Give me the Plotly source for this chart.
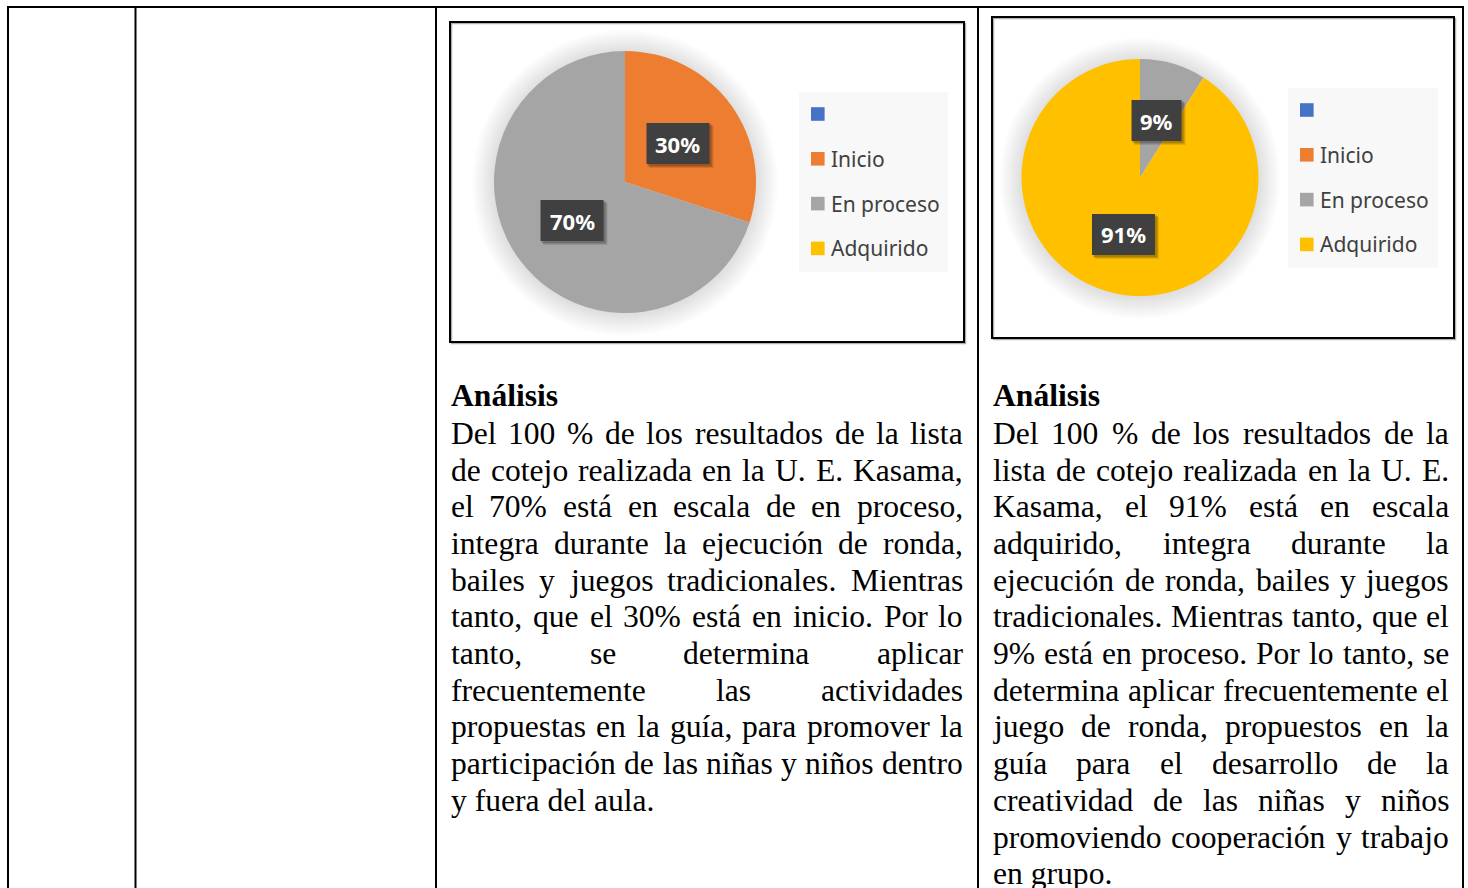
import math
import plotly.graph_objects as go

# ---------------------------------------------------------------- data
categorias = ["", "Inicio", "En proceso", "Adquirido"]
colores = ["#4472C4", "#ED7D31", "#A5A5A5", "#FFC000"]
valores_1 = [0, 30, 70, 0]
valores_2 = [0, 0, 9, 91]

titulo = "Análisis"
parrafo_1 = [
    "Del 100 % de los resultados de la lista",
    "de cotejo realizada en la U. E. Kasama,",
    "el 70% está en escala de en proceso,",
    "integra durante la ejecución de ronda,",
    "bailes y juegos tradicionales. Mientras",
    "tanto, que el 30% está en inicio. Por lo",
    "tanto, se determina aplicar",
    "frecuentemente las actividades",
    "propuestas en la guía, para promover la",
    "participación de las niñas y niños dentro",
    "y fuera del aula.",
]
parrafo_2 = [
    "Del 100 % de los resultados de la",
    "lista de cotejo realizada en la U. E.",
    "Kasama, el 91% está en escala",
    "adquirido, integra durante la",
    "ejecución de ronda, bailes y juegos",
    "tradicionales. Mientras tanto, que el",
    "9% está en proceso. Por lo tanto, se",
    "determina aplicar frecuentemente el",
    "juego de ronda, propuestos en la",
    "guía para el desarrollo de la",
    "creatividad de las niñas y niños",
    "promoviendo cooperación y trabajo",
    "en grupo.",
]

# ---------------------------------------------------------------- page geometry (pixels)
W, H = 1468, 888
SERIF = "Liberation Serif, Times New Roman, serif"
SANS = "Noto Sans, Open Sans, sans-serif"

# Times advance widths (1/1000 em) used to justify the paragraphs
TIMES = {" ": 250, "%": 833, ",": 250, ".": 250, "A": 722, "D": 722, "E": 611,
         "K": 722, "M": 889, "P": 556, "U": 722, "a": 444, "b": 500, "c": 444,
         "d": 500, "e": 444, "f": 333, "g": 500, "h": 500, "i": 278, "j": 278,
         "k": 500, "l": 278, "m": 778, "n": 500, "o": 500, "p": 500, "q": 500,
         "r": 333, "s": 389, "t": 278, "u": 500, "v": 500, "w": 722, "x": 500,
         "y": 500, "z": 444, "á": 444, "é": 444, "í": 278, "ó": 500, "ú": 500,
         "ñ": 500}
for d in "0123456789":
    TIMES[d] = 500


def text_w(s, fs):
    return sum(TIMES.get(ch, 500) for ch in s) / 1000.0 * fs


shapes = []
annotations = []


def line(x0, y0, x1, y1, color="black", width=2, layer="above"):
    shapes.append(dict(type="line", xref="x", yref="y", x0=x0, y0=y0, x1=x1, y1=y1,
                       line=dict(color=color, width=width), layer=layer))


def rect(x0, y0, x1, y1, fill=None, color=None, width=0, layer="above", opacity=1):
    shapes.append(dict(type="rect", xref="x", yref="y", x0=x0, y0=y0, x1=x1, y1=y1,
                       fillcolor=fill if fill else "rgba(0,0,0,0)",
                       line=dict(color=color if color else "rgba(0,0,0,0)", width=width),
                       layer=layer, opacity=opacity))


def label(x, y, text, size, color, family, xanchor="left", yanchor="middle", bold=False):
    annotations.append(dict(xref="x", yref="y", x=x, y=y, text=f"<b>{text}</b>" if bold else text,
                            showarrow=False, xanchor=xanchor, yanchor=yanchor,
                            borderpad=0, borderwidth=0,
                            font=dict(size=size, color=color, family=family)))


# ---------------------------------------------------------------- table rules
TOP = 7
line(7, TOP, 1464, TOP)
for xv in (8, 135.5, 436, 978, 1463):
    line(xv, TOP, xv, H + 5)

# ---------------------------------------------------------------- chart frames
for (x0, y0, x1, y1) in [(450, 22, 964, 342), (992, 17, 1454, 338)]:
    rect(x0 + 1.5, y0 + 1.5, x1 + 1.5, y1 + 1.5, color="#b0b0b0", width=1.5, layer="below")
    rect(x0, y0, x1, y1, color="black", width=2, layer="below")

# ---------------------------------------------------------------- pies
pies = [
    dict(vals=valores_1, cx=625, cy=182, r=131, leg=(799, 92, 948, 272), sq_x=811, row0=114),
    dict(vals=valores_2, cx=1140, cy=177.5, r=118.5, leg=(1288, 88, 1438, 268), sq_x=1300, row0=110),
]

traces = [go.Scatter(x=[0, W], y=[0, H], mode="markers", marker=dict(opacity=0),
                     hoverinfo="skip", showlegend=False)]

for p in pies:
    cx, cy, r = p["cx"], p["cy"], p["r"]
    # soft outer shadow
    for i in range(16, 0, -1):
        rr = r + 1.4 * i
        shapes.append(dict(type="circle", xref="x", yref="y", x0=cx - rr, x1=cx + rr,
                           y0=cy - rr + 1, y1=cy + rr + 1, fillcolor="black", opacity=0.009,
                           line=dict(width=0), layer="below"))
    traces.append(go.Pie(
        labels=categorias, values=p["vals"], sort=False, direction="clockwise", rotation=0,
        marker=dict(colors=colores, line=dict(width=0)), textinfo="none",
        showlegend=False, hoverinfo="label+percent",
        domain=dict(x=[(cx - r) / W, (cx + r) / W], y=[1 - (cy + r) / H, 1 - (cy - r) / H]),
    ))

    # data labels at the middle of each slice
    total = float(sum(p["vals"]))
    acc = 0.0
    for v in p["vals"]:
        if v > 0:
            mid = (acc + v / 2.0) / total * 2 * math.pi
            lx = cx + 0.5 * r * math.sin(mid)
            ly = cy - 0.5 * r * math.cos(mid)
            txt = f"{round(100 * v / total)}%"
            bw = 37 + 13 * (len(txt) - 1)
            bh = 41
            for k, op in ((4, 0.10), (3, 0.12), (2, 0.15)):
                rect(lx - bw / 2 + k - 1, ly - bh / 2 + k - 1, lx + bw / 2 + k, ly + bh / 2 + k,
                     fill="black", opacity=op)
            rect(lx - bw / 2, ly - bh / 2, lx + bw / 2, ly + bh / 2, fill="#404040")
            label(lx, ly, txt, 22, "white", SANS, xanchor="center", bold=True)
        acc += v

    # legend
    lx0, ly0, lx1, ly1 = p["leg"]
    rect(lx0, ly0, lx1, ly1, fill="#f8f8f8", layer="below")
    for j, (name, col) in enumerate(zip(categorias, colores)):
        yc = p["row0"] + 44.8 * j
        rect(p["sq_x"], yc - 6.8, p["sq_x"] + 13.6, yc + 6.8, fill=col)
        if name:
            label(p["sq_x"] + 20, yc, name, 21, "#404040", SANS)

# ---------------------------------------------------------------- analysis paragraphs
FS = 31.6
PITCH = 36.7
ASC_MID = 0.3375 * FS  # baseline to middle of the text box


def paragraph(lines, left, right, base_title, base0):
    label(left, base_title - ASC_MID, titulo, FS, "black", SERIF, bold=True)
    for n, ln in enumerate(lines):
        yb = base0 + PITCH * n - ASC_MID
        words = ln.split(" ")
        if n == len(lines) - 1 or len(words) == 1:
            label(left, yb, ln, FS, "black", SERIF)
            continue
        widths = [text_w(w, FS) for w in words]
        gap = (right - left - sum(widths)) / (len(words) - 1)
        x = left
        for k, (w, wd) in enumerate(zip(words, widths)):
            if k == len(words) - 1:
                label(right, yb, w, FS, "black", SERIF, xanchor="right")
            else:
                label(x, yb, w, FS, "black", SERIF)
            x += wd + gap


paragraph(parrafo_1, 451, 963, 406, 444)
paragraph(parrafo_2, 993, 1449, 406, 444)

# ---------------------------------------------------------------- figure
fig = go.Figure(data=traces)
fig.update_layout(
    width=W, height=H, margin=dict(l=0, r=0, t=0, b=0),
    paper_bgcolor="white", plot_bgcolor="white",
    xaxis=dict(range=[0, W], visible=False, fixedrange=True, domain=[0, 1]),
    yaxis=dict(range=[H, 0], visible=False, fixedrange=True, domain=[0, 1]),
    shapes=shapes, annotations=annotations, showlegend=False,
)
fig.write_html("out.html")
